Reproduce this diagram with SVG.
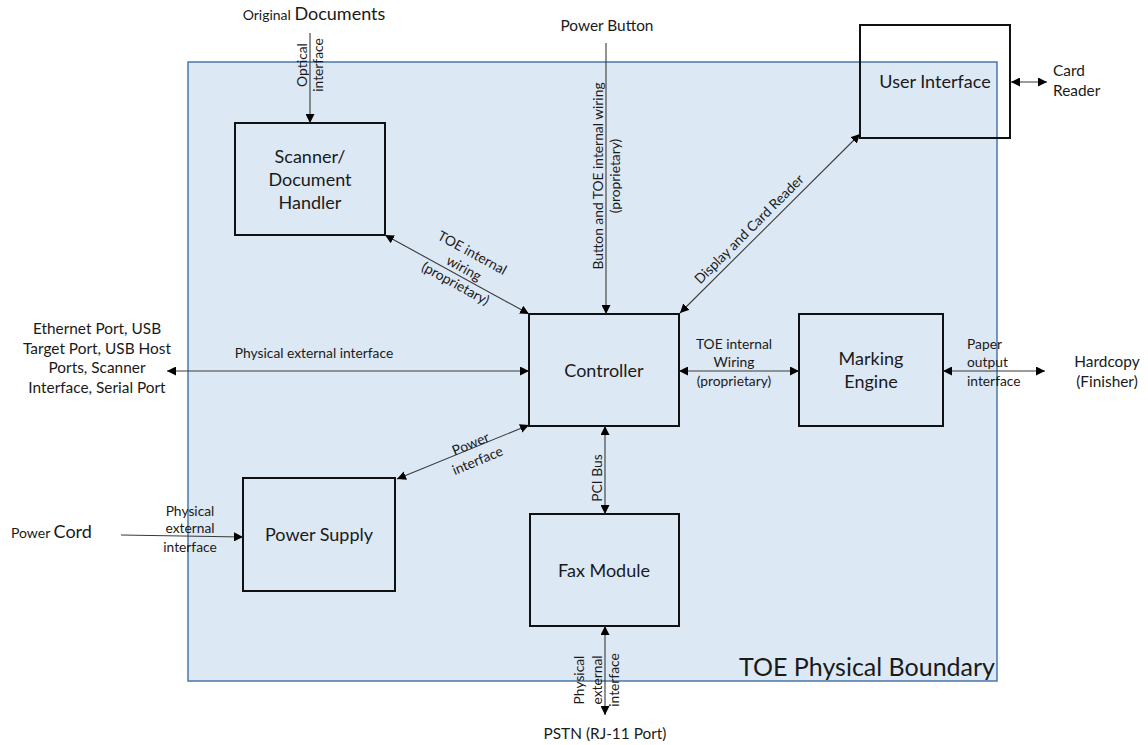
<svg xmlns="http://www.w3.org/2000/svg" width="1148" height="745" viewBox="0 0 1148 745">
  <style>
    text { font-family: Lato, "Open Sans", "Liberation Sans", sans-serif; fill: #1a1a1a; }
    .box { fill: none; stroke: #111; stroke-width: 2; }
    .node { font-size: 18px; text-anchor: middle; }
    .lbl { font-size: 13.8px; }
    .ext { font-size: 15.4px; }
    .mid { text-anchor: middle; }
    .wire { fill: none; stroke: #3a3a3a; stroke-width: 1.1; }
    .both { marker-start: url(#arr); marker-end: url(#arr); }
    .one { marker-end: url(#arr); }
  </style>
  <defs>
    <marker id="arr" viewBox="0 0 10 10" refX="10" refY="5" markerWidth="9" markerHeight="9" markerUnits="userSpaceOnUse" orient="auto-start-reverse">
      <path d="M0,0 L10,5 L0,10 z" fill="#000"/>
    </marker>
  </defs>

  <rect width="1148" height="745" fill="#fff"/>

  <!-- TOE physical boundary -->
  <g id="boundary">
    <rect x="188" y="62" width="809" height="619" fill="#dde8f5" stroke="#4a78a8" stroke-width="1.5"/>
    <text x="995" y="676" font-size="25" text-anchor="end">TOE Physical Boundary</text>
  </g>

  <!-- internal components -->
  <g id="scanner">
    <rect class="box" x="235" y="123" width="150" height="112"/>
    <text class="node" x="310" y="163">Scanner/</text>
    <text class="node" x="310" y="186">Document</text>
    <text class="node" x="310" y="209">Handler</text>
  </g>

  <g id="controller">
    <rect class="box" x="529" y="314" width="150" height="112"/>
    <text class="node" x="604" y="377">Controller</text>
  </g>

  <g id="marking-engine">
    <rect class="box" x="799" y="314" width="144" height="112"/>
    <text class="node" x="871" y="365">Marking</text>
    <text class="node" x="871" y="388">Engine</text>
  </g>

  <g id="user-interface">
    <rect class="box" x="860" y="25" width="150" height="113"/>
    <text class="node" x="935" y="88">User Interface</text>
  </g>

  <g id="power-supply">
    <rect class="box" x="243" y="478" width="152" height="113"/>
    <text class="node" x="319" y="541">Power Supply</text>
  </g>

  <g id="fax-module">
    <rect class="box" x="530" y="514" width="149" height="112"/>
    <text class="node" x="604" y="577">Fax Module</text>
  </g>

  <!-- external endpoints -->
  <g id="original-documents">
    <text x="314" y="20" class="mid"><tspan font-size="14">Original </tspan><tspan font-size="18">Documents</tspan></text>
  </g>

  <g id="power-button">
    <text x="607" y="31" class="ext mid">Power Button</text>
  </g>

  <g id="card-reader">
    <text x="1053" y="76" class="ext">Card</text>
    <text x="1053" y="96" class="ext">Reader</text>
  </g>

  <g id="network-ports">
    <text class="ext mid" x="97" y="334">Ethernet Port, USB</text>
    <text class="ext mid" x="97" y="354">Target Port, USB Host</text>
    <text class="ext mid" x="97" y="373">Ports, Scanner</text>
    <text class="ext mid" x="97" y="393">Interface, Serial Port</text>
  </g>

  <g id="hardcopy">
    <text class="ext mid" x="1107" y="367">Hardcopy</text>
    <text class="ext mid" x="1107" y="387">(Finisher)</text>
  </g>

  <g id="power-cord">
    <text x="11" y="538"><tspan font-size="14">Power </tspan><tspan font-size="18">Cord</tspan></text>
  </g>

  <g id="pstn">
    <text class="ext mid" x="605" y="739">PSTN (RJ-11 Port)</text>
  </g>

  <!-- connectors and their labels -->
  <g id="connectors">
    <path class="wire one" d="M310,33 V123"/>
    <path class="wire both" d="M385,235 L529,314"/>
    <path class="wire one" d="M606,43 V314"/>
    <path class="wire both" d="M680,313 L860,134"/>
    <path class="wire both" d="M1011,82 H1047"/>
    <path class="wire both" d="M167,371 H529"/>
    <path class="wire both" d="M679,371 H799"/>
    <path class="wire both" d="M943,371 H1045"/>
    <path class="wire both" d="M397,479 L529,425"/>
    <path class="wire both" d="M605,426 V514"/>
    <path class="wire both" d="M605,626 V715"/>
    <path class="wire one" d="M121,535 L243,537"/>

    <g class="lbl">
      <g transform="translate(310,65) rotate(-90)" text-anchor="middle">
        <text x="0" y="-3">Optical</text>
        <text x="0" y="13">interface</text>
      </g>
      <g transform="translate(464,268) rotate(28.7)" text-anchor="middle">
        <text x="0" y="-12.5">TOE internal</text>
        <text x="0" y="5">wiring</text>
        <text x="0" y="22.5">(proprietary)</text>
      </g>
      <g transform="translate(606,176) rotate(-90)" text-anchor="middle">
        <text x="0" y="-3">Button and TOE internal wiring</text>
        <text x="0" y="14">(proprietary)</text>
      </g>
      <g transform="translate(749,229) rotate(-45)" text-anchor="middle">
        <text x="0" y="5">Display and Card Reader</text>
      </g>
      <text x="314" y="358" text-anchor="middle">Physical external interface</text>
      <g text-anchor="middle">
        <text x="734" y="349">TOE internal</text>
        <text x="734" y="367">Wiring</text>
        <text x="734" y="386">(proprietary)</text>
      </g>
      <text x="967" y="349">Paper</text>
      <text x="967" y="367">output</text>
      <text x="967" y="386">interface</text>
      <g transform="translate(474,452) rotate(-22.7)" text-anchor="middle">
        <text x="0" y="-4">Power</text>
        <text x="0" y="14">interface</text>
      </g>
      <g transform="translate(605,478) rotate(-90)" text-anchor="middle">
        <text x="0" y="-3">PCI Bus</text>
      </g>
      <g text-anchor="middle">
        <text x="190" y="516">Physical</text>
        <text x="190" y="533">external</text>
        <text x="190" y="552">interface</text>
      </g>
      <g transform="translate(605,680) rotate(-90)" text-anchor="middle">
        <text x="0" y="-21">Physical</text>
        <text x="0" y="-3.5">external</text>
        <text x="0" y="14">interface</text>
      </g>
    </g>
  </g>
</svg>
